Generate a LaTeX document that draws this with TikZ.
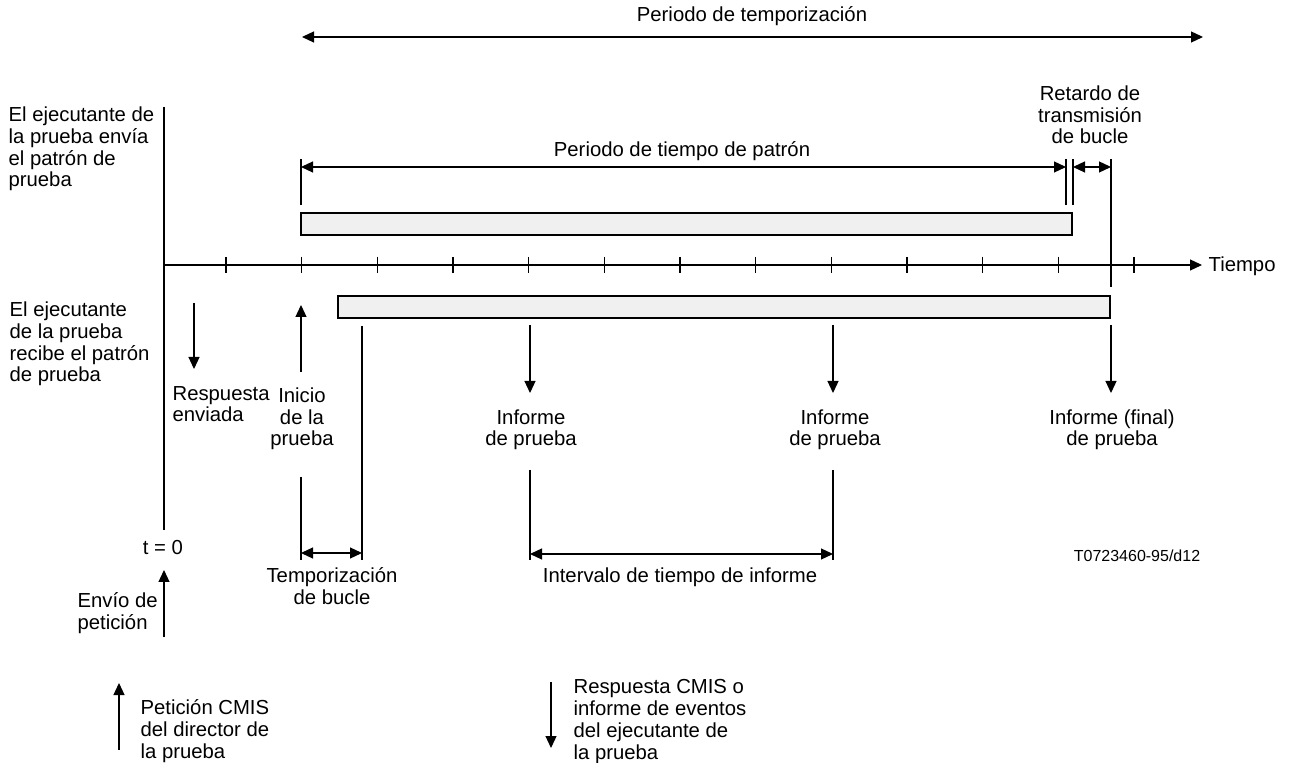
\documentclass[tikz,border=0pt]{standalone}
\usepackage{fontspec}
\setmainfont{Liberation Sans}
\usetikzlibrary{arrows.meta}

\definecolor{barfill}{RGB}{240,240,240}
\tikzset{every picture/.style={line width=0.6pt}}
\tikzset{
  txt/.style={inner sep=0pt, font=\fontsize{10.15}{10.9}\selectfont},
  tip/.style={-{Triangle[length=6pt,width=5.5pt]}},
  dim/.style={{Triangle[length=6pt,width=5.5pt]}-{Triangle[length=6pt,width=5.5pt]}},
  barra/.style={draw, fill=barfill}
}

\begin{document}
\begin{tikzpicture}[x=0.5pt,y=0.5pt,yscale=-1,xscale=1]
\useasboundingbox (0,0) rectangle (1289,763);

%Axes
\coordinate (o) at (164,265);
\coordinate (tEnd) at (1202,265);
\coordinate (vTop) at (164,107);
\coordinate (vBot) at (164,530);
\draw (vTop) -- (vBot);
\draw [tip] (o) -- (tEnd);
\foreach \k in {0,...,12}
  \draw ({226+75.67*\k},257) -- ({226+75.67*\k},273);
% Text Node
\node [txt, anchor=base west] (tTiempo) at (1208,272) {Tiempo};

%Shape: Rectangle (pattern sent / received)
\draw [barra] (301,213) rectangle (1072,235);
\draw [barra] (338,296) rectangle (1110,318);

%Timeout period
\draw [dim] (302,37) -- (1203,37);
% Text Node
\node [txt, anchor=base] (tTemporizacion) at (752,22) {Periodo de temporización};

%Pattern time and loop delay
\draw (301,159) -- (301,205);
\draw (1066,159) -- (1066,205);
\draw (1073,159) -- (1073,205);
\draw (1111,159) -- (1111,287);
\draw [dim] (301,167) -- (1066,167);
\draw [dim] (1073,167) -- (1111,167);
% Text Node
\node [txt, anchor=base] (tPatron) at (682,157) {Periodo de tiempo de patrón};
% Text Node
\node [txt, anchor=base, align=center] (tRetardo) at (1090,144) {Retardo de\\transmisión\\de bucle};

% Text Node
\node [txt, anchor=base west, align=left] (tEnvia) at (8,187) {El ejecutante de\\la prueba envía\\el patrón de\\prueba};
% Text Node
\node [txt, anchor=base west, align=left] (tRecibe) at (9,382) {El ejecutante\\de la prueba\\recibe el patrón\\de prueba};

%Response and start of test
\draw [tip] (194,303) -- (194,369);
\node [txt, anchor=base west, align=left] (tRespuesta) at (172,422) {Respuesta\\enviada};
\draw [tip] (301,372) -- (301,305);
\node [txt, anchor=base, align=center] (tInicio) at (302,446) {Inicio\\de la\\prueba};

%Loop timing
\draw (362,326) -- (362,560);
\draw (301,477) -- (301,560);
\draw [dim] (301,553) -- (362,553);
\node [txt, anchor=base, align=center] (tBucle) at (332,604) {Temporización\\de bucle};

%Test reports
\foreach \x in {530,833} {
  \draw [tip] (\x,325) -- (\x,393);
  \draw (\x,470) -- (\x,560);
}
\node [txt, anchor=base, align=center] (tInforme1) at (531,446) {Informe\\de prueba};
\node [txt, anchor=base, align=center] (tInforme2) at (835,446) {Informe\\de prueba};
\draw [dim] (530,554) -- (833,554);
\node [txt, anchor=base] (tIntervalo) at (680,582) {Intervalo de tiempo de informe};
\draw [tip] (1111,325) -- (1111,393);
\node [txt, anchor=base, align=center] (tInformeFin) at (1112,446) {Informe (final)\\de prueba};

% Text Node
\node [inner sep=0pt, font=\fontsize{8}{9}\selectfont, anchor=base] (tRef) at (1137,562) {T0723460-95/d12};

%Request
\node [txt, anchor=base] (tCero) at (163,555) {t = 0};
\draw [tip] (164,637) -- (164,570);
\node [txt, anchor=base west, align=left] (tEnvio) at (77,629) {Envío de\\petición};

%Legend
\draw [tip] (119,750) -- (119,683);
\node [txt, anchor=base west, align=left] (tPeticion) at (140,758) {Petición CMIS\\del director de\\la prueba};
\draw [tip] (551,682) -- (551,748);
\node [txt, anchor=base west, align=left] (tRespCMIS) at (573,759) {Respuesta CMIS o\\informe de eventos\\del ejecutante de\\la prueba};

\end{tikzpicture}
\end{document}
